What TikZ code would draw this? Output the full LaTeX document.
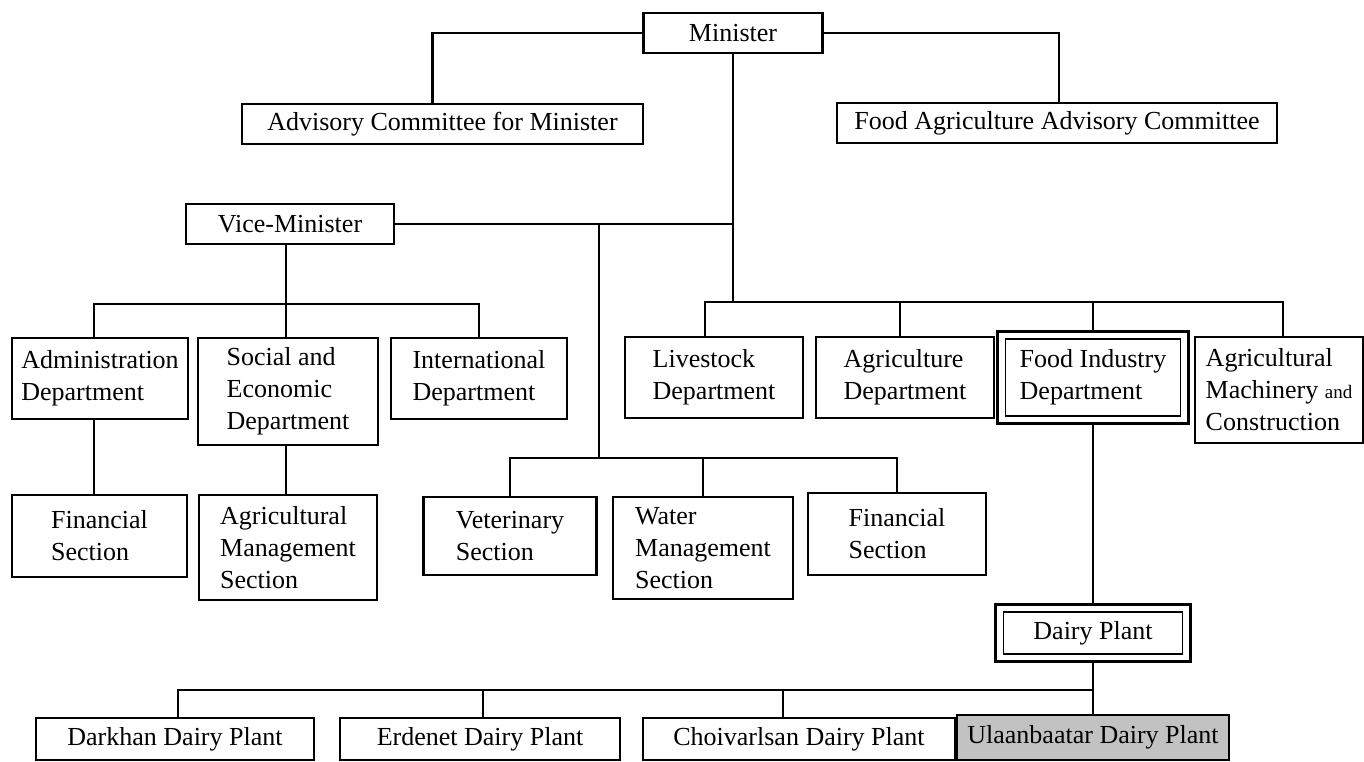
\documentclass[tikz,border=0pt]{standalone}
\usepackage{fontspec}
\setmainfont{Liberation Serif}
\usetikzlibrary{fit}
\newcommand\mysz{\fontsize{26}{32}\selectfont}
\begin{document}
\begin{tikzpicture}[x=1pt,y=-1pt,
  box/.style={draw, line width=2.3pt, inner sep=0pt, align=left, font=\mysz},
  outerbox/.style={draw, line width=3pt, inner sep=7pt},
  conn/.style={line width=2.5pt}]
\useasboundingbox (0,0) rectangle (1364,762);
% top
\node[box, minimum width=179, minimum height=40] (Min) at (733,33) {Minister};
\node[box, minimum width=401, minimum height=40] (Adv) at (442.5,124) {Advisory Committee for Minister};
\node[box, minimum width=440, minimum height=40] (Fag) at (1057,123) {Food Agriculture Advisory Committee};
\node[box, minimum width=208, minimum height=40] (Vice) at (290,224) {Vice-Minister};
% departments
\node[box, minimum width=176, minimum height=81] (Adm) at (100,378.5) {Administration\\Department};
\node[box, minimum width=180, minimum height=107] (Soc) at (288,391.5) {Social and\\Economic\\Department};
\node[box, minimum width=176, minimum height=81] (Int) at (479,378.5) {International\\Department};
\node[box, minimum width=178, minimum height=81] (Liv) at (714,377.5) {Livestock\\Department};
\node[box, minimum width=178, minimum height=81] (Agr) at (905,377.5) {Agriculture\\Department};
\node[box, line width=1.8pt, minimum width=175, minimum height=77] (FI) at (1093,377.5) {Food Industry\\Department};
\node[outerbox, fit=(FI)] (FIo) {};
\node[box, minimum width=168, minimum height=106] (AM) at (1279,390) {Agricultural\\Machinery {\fontsize{19}{32}\selectfont and}\\Construction};
% sections
\node[box, minimum width=175, minimum height=82] (Fin1) at (99.5,536) {Financial\\Section};
\node[box, minimum width=178, minimum height=105] (AgM) at (288,547.5) {Agricultural\\Management\\Section};
\node[box, minimum width=173, minimum height=78] (Vet) at (510,536) {Veterinary\\Section};
\node[box, minimum width=180, minimum height=102] (Wat) at (703,548) {Water\\Management\\Section};
\node[box, minimum width=178, minimum height=82] (Fin2) at (897,534) {Financial\\Section};
% dairy
\node[box, line width=1.8pt, minimum width=179, minimum height=42] (Dai) at (1093,633) {Dairy Plant};
\node[outerbox, fit=(Dai)] (Daio) {};
\node[box, minimum width=278, minimum height=42] (Dar) at (175,739) {Darkhan Dairy Plant};
\node[box, minimum width=280, minimum height=42] (Erd) at (480,739) {Erdenet Dairy Plant};
\node[box, minimum width=312, minimum height=42] (Cho) at (799,739) {Choivarlsan Dairy Plant};
\node[box, fill=black!24, minimum width=272, minimum height=45] (Ula) at (1093,737.5) {Ulaanbaatar Dairy Plant};
% connectors: minister
\draw[conn] (Min.west) -| ([xshift=-10]Adv.north);
\draw[conn] (Min.east) -| ([xshift=2]Fag.north);
\coordinate (db) at (733,302);
\draw[conn] (Min.south) -- (db);
\draw[conn] (Vice.east) -- (Vice.east -| Min.south);
% sections branch
\coordinate (sb) at (599,458);
\draw[conn] (sb |- Vice.east) -- (sb);
\draw[conn] (Vet.north) |- (sb) -| (Fin2.north);
\draw[conn] (Wat.north) -- (Wat.north |- sb);
% vice-minister branch
\coordinate (vb) at (286,304);
\draw[conn] (Vice.south -| vb) -- (vb);
\draw[conn] ([xshift=-6]Adm.north) |- (vb) -| (Int.north);
\draw[conn] (vb) -- (Soc.north -| vb);
\draw[conn] ([xshift=-6]Adm.south) -- ([xshift=-6]Adm.south |- Fin1.north);
\draw[conn] (Soc.south -| vb) -- (AgM.north -| vb);
% departments
\draw[conn] ([xshift=-9]Liv.north) |- (db) -| ([xshift=4]AM.north);
\draw[conn] ([xshift=-5]Agr.north) -- ([xshift=-5]Agr.north |- db);
\draw[conn] (FIo.north) -- (FIo.north |- db);
\draw[conn] (FIo.south) -- (Daio.north);
% dairy plants
\coordinate (pb) at (1093,690);
\draw[conn] (Daio.south) -- (Ula.north);
\draw[conn] ([xshift=3]Dar.north) |- (pb);
\draw[conn] ([xshift=3]Erd.north) -- ([xshift=3]Erd.north |- pb);
\draw[conn] ([xshift=-16]Cho.north) -- ([xshift=-16]Cho.north |- pb);
\end{tikzpicture}
\end{document}
